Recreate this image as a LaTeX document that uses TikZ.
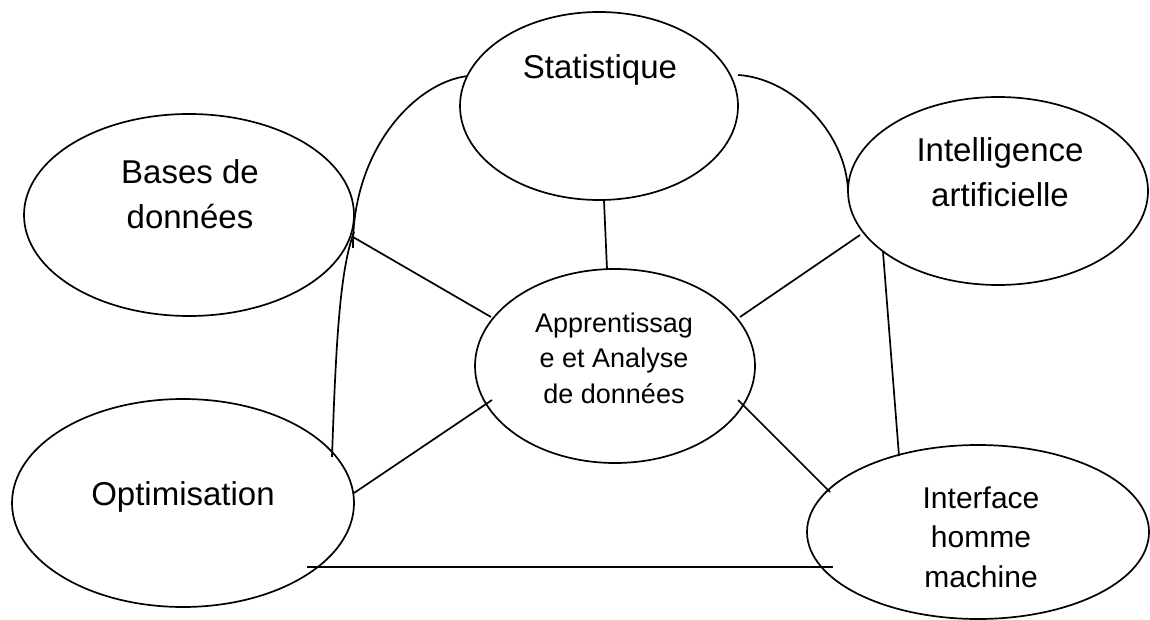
\documentclass[tikz,border=0pt]{standalone}
\usepackage{fontspec}
\setmainfont{Liberation Sans}
\usetikzlibrary{shapes.geometric,calc}
\begin{document}
\begin{tikzpicture}[x=1pt,y=-1pt,
  oval/.style={ellipse,draw,line width=1.7pt,inner sep=0pt},
  link/.style={line width=1.7pt},
  lbl/.style={align=center,inner sep=0pt,anchor=base},
  bigtext/.style={font=\fontsize{33}{45}\selectfont},
  midtext/.style={font=\fontsize{30}{39.5}\selectfont},
  smalltext/.style={font=\fontsize{27}{35.5}\selectfont}]
\useasboundingbox (0,0) rectangle (1150,620);

% domains
\node[oval,minimum width=278pt,minimum height=188pt] (stat)  at (599,106) {};
\node[oval,minimum width=330pt,minimum height=202pt] (bases) at (189,215) {};
\node[oval,minimum width=300pt,minimum height=188pt] (intel) at (998,191) {};
\node[oval,minimum width=280pt,minimum height=194pt] (appr)  at (615,366) {};
\node[oval,minimum width=342pt,minimum height=208pt] (opt)   at (183,503) {};
\node[oval,minimum width=342pt,minimum height=174pt] (ihm)   at (978,532) {};

% labels (base anchor sits on the last line)
\node[lbl,bigtext] (statT) at (600,79) {Statistique};
\node[lbl,bigtext] (basesT) at (190,229) {Bases de\\données};
\node[lbl,bigtext] (intelT) at (1000,207) {Intelligence\\artificielle};
\node[lbl,smalltext] (apprT) at (614,403) {Apprentissag\\e et Analyse\\de données};
\node[lbl,bigtext] (optT) at (183,505) {Optimisation};
\node[lbl,midtext] (ihmT) at (981,587) {Interface\\homme\\machine};

% straight links to the centre
\draw[link] ($(stat)+(5,95)$) -- ($(appr)+(-8,-97)$);
\draw[link] ($(bases)+(164,22)$) -- ($(appr)+(-124,-49)$);
\draw[link] ($(intel)+(-138,44)$) -- ($(appr)+(125,-49)$);
\draw[link] ($(opt)+(171,-10)$) -- ($(appr)+(-123,34)$);
\draw[link] ($(appr)+(123,34)$) -- ($(ihm)+(-148,-40)$);

% outer ring
\draw[link] ($(stat)+(-131,-30)$) .. controls ($(stat)+(-184,-24)$) and ($(bases)+(163,-65)$) .. ($(bases)+(164,33)$);
\draw[link] ($(opt)+(149,-46)$) .. controls ($(opt)+(153,-163)$) and ($(bases)+(151,55)$) .. ($(bases)+(165,17)$);
\draw[link] ($(stat)+(139,-31)$) .. controls ($(stat)+(191,-28)$) and ($(intel)+(-153,-61)$) .. ($(intel)+(-150,-1)$);
\draw[link] ($(intel)+(-115,61)$) -- ($(ihm)+(-79,-76)$);
\draw[link] ($(opt)+(124,64)$) -- ($(ihm)+(-145,35)$);
\end{tikzpicture}
\end{document}
